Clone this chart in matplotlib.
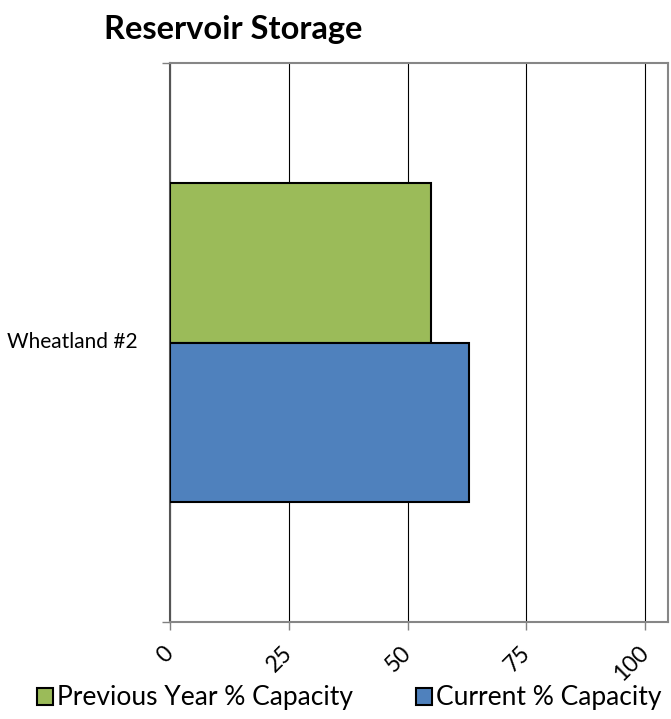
import numpy as np
import matplotlib.pyplot as plt
from matplotlib.patches import Patch

# %% Data
categories = ['Wheatland #2']
previous_year = [55]  # Previous Year % Capacity
current = [63]  # Current % Capacity
x_ticks = [0, 25, 50, 75, 100]

plt.rcParams['font.family'] = ['Lato', 'DejaVu Sans']

# %% plotting
fig = plt.figure(figsize=(6.71, 7.19), dpi=100)
ax = fig.add_axes([170 / 671, 1 - 622 / 719, 498 / 671, 559 / 719])

y = np.arange(len(categories))
h = 0.286
ax.barh(y + h / 2, previous_year, height=h, color='#9BBB59', edgecolor='black', linewidth=1.5, zorder=3)
ax.barh(y - h / 2, current, height=h, color='#4F81BD', edgecolor='black', linewidth=1.5, zorder=3)

ax.set_xlim(0, 104.8)
ax.set_ylim(-0.5, 0.5)
ax.set_xticks(x_ticks)
ax.set_xticklabels([str(t) for t in x_ticks], rotation=45, ha='right', va='center',
                   rotation_mode='anchor', fontsize=16.5)
ax.tick_params(axis='x', length=6, width=1, color='#808080', pad=14)
ax.set_yticks([-0.5, 0.5])
ax.set_yticklabels([])
ax.tick_params(axis='y', length=6, width=1, color='#808080')
ax.text(-0.065, 0, categories[0], transform=ax.get_yaxis_transform(), ha='right', va='center', fontsize=15)
ax.grid(axis='x', color='black', linewidth=0.8, zorder=0)
ax.set_axisbelow(True)
for s in ax.spines.values():
    s.set_color('#868686')
    s.set_linewidth(1.5)
ax.spines['left'].set_color('#555555')

fig.text(104 / 671, 1 - 30 / 719, 'Reservoir Storage', fontsize=23.5, fontweight='bold', ha='left', va='center')

handles = [Patch(facecolor='#9BBB59', edgecolor='black', linewidth=1.5),
           Patch(facecolor='#4F81BD', edgecolor='black', linewidth=1.5)]
fig.legend(handles, ['Previous Year % Capacity', 'Current % Capacity'],
           loc='center', bbox_to_anchor=(349 / 671, 1 - 698 / 719), ncol=2, frameon=False,
           fontsize=19, handlelength=0.6, handleheight=0.6, handletextpad=0.15, columnspacing=2.4,
           borderpad=0, borderaxespad=0)

plt.savefig('out.png', dpi=100)
